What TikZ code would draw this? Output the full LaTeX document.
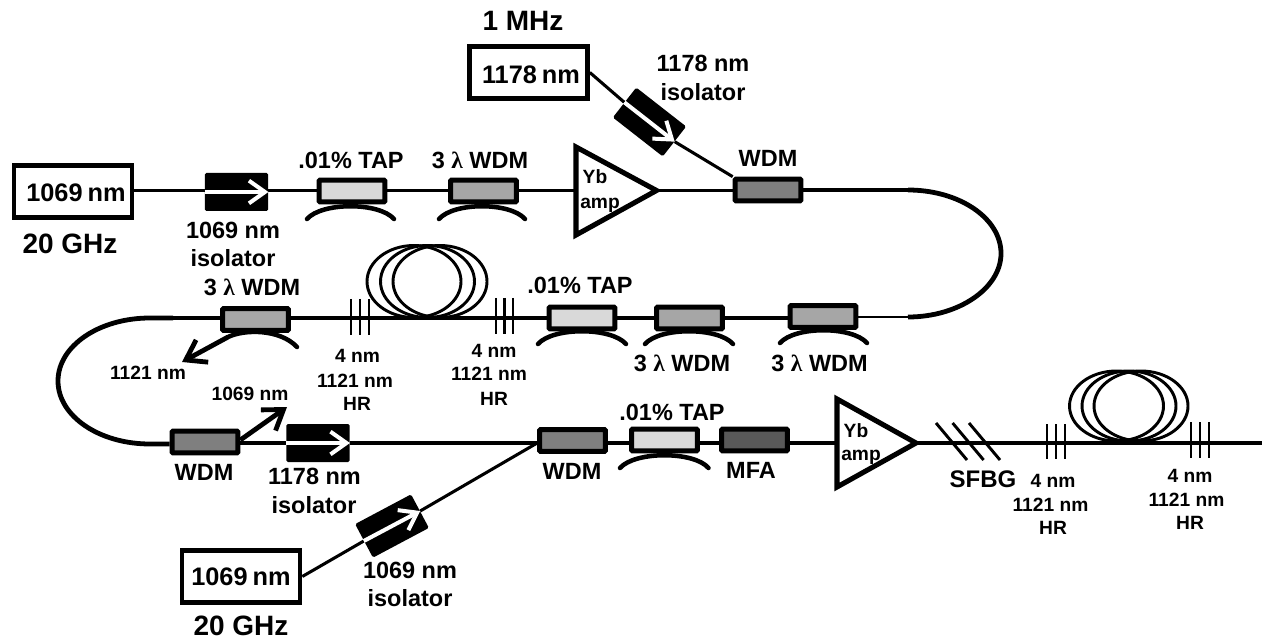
\documentclass[tikz,border=0pt]{standalone}
\usepackage{fontspec}
\setmainfont{Liberation Sans}[BoldFont={Liberation Sans Bold}]
\newfontfamily\lamfont{Liberation Serif}[BoldFont={Liberation Serif Bold}]
\usetikzlibrary{arrows.meta}
\definecolor{tapc}{HTML}{D9D9D9}
\definecolor{wlc}{HTML}{A6A6A6}
\definecolor{wdmc}{HTML}{7F7F7F}
\definecolor{mfac}{HTML}{595959}
\newcommand{\lam}{{\lamfont λ}}
\tikzset{
  x=0.75pt,y=-0.75pt,
  lbl/.style={inner sep=0pt,outer sep=0pt,align=center,font=\bfseries\fontsize{17.6}{19}\selectfont,text height=12.7pt,text depth=0pt},
  lblbig/.style={lbl,font=\bfseries\fontsize{19}{21}\selectfont,text height=13.7pt},
  lblfreq/.style={lbl,font=\bfseries\fontsize{21}{23}\selectfont,text height=15.1pt},
  lblsf/.style={lbl,font=\bfseries\fontsize{18}{20}\selectfont,text height=13pt},
  lblsm/.style={lbl,font=\bfseries\fontsize{14.4}{16}\selectfont,text height=10.4pt},
  source/.style={draw,line width=3.6pt,fill=white,minimum width=92pt-3.6pt,minimum height=43pt-3.6pt,inner sep=0pt},
  comp/.style={draw,line width=3.7pt,minimum width=53pt-3.7pt,minimum height=20pt-3.7pt,inner sep=0pt,rounded corners=.6pt},
  tapbox/.style={comp,fill=tapc},
  wlbox/.style={comp,fill=wlc},
  wdmbox/.style={comp,fill=wdmc},
  mfabox/.style={comp,fill=mfac},
  isobox/.style={fill=black,minimum width=47.5pt,minimum height=28.5pt,inner sep=0pt,rounded corners=1.2pt},
  ampbox/.style={draw,line width=3.8pt,line join=miter},
  fibre/.style={line width=2.3pt},
  bendline/.style={line width=3.6pt},
  coup/.style={line width=3.4pt,line cap=round},
  coil/.style={line width=2.2pt},
  grat/.style={line width=2.2pt},
  whitearr/.style={draw=white,line width=3pt,-{Straight Barb[length=12pt,width=17pt,line width=3pt]}},
  blackarr/.style={line width=3.6pt,-{Straight Barb[length=14pt,width=19pt,line width=3.6pt]}},
}
\begin{document}
\begin{tikzpicture}
\useasboundingbox (0,0) rectangle (1262,641);
% sources
\node[source] (srcA) at (73,191.5) {};
\node[source] (srcB) at (528.5,72.5) {};
\node[source] (srcC) at (241,576.5) {};
\node[lblbig] (tA) at (76,192) {1069\hspace{-.08em} nm};
\node[lblbig] (tB) at (531,74) {1178\hspace{-.08em} nm};
\node[lblbig] (tC) at (241,576) {1069\hspace{-.08em} nm};
\node[lblfreq] (fA) at (70,243) {20 GHz};
\node[lblfreq] (fB) at (523,20) {1 MHz};
\node[lblfreq] (fC) at (241,625) {20 GHz};
% row 1
\node[isobox] (isoA) at (236.5,192) {};
\node[tapbox] (tapA) at (352,191) {};
\node[wlbox] (wlA) at (483.5,191) {};
\node[wdmbox] (wdmA) at (768,190) {};
\coordinate (ampAw) at (576,190.5);
\coordinate (ampAe) at (656.5,190.5);
\draw[ampbox,fill=white] (576,147) -- (ampAe) -- (576,235) -- cycle;
\node[lblsm] (ybA) at (595,177) {Yb};
\node[lblsm] (amA) at (600,202) {amp};
\draw[fibre] (srcA.east |- ampAw) -- (isoA.west |- ampAw);
\draw[fibre] (isoA.east |- ampAw) -- (tapA.west |- ampAw);
\draw[fibre] (tapA.east |- ampAw) -- (wlA.west |- ampAw);
\draw[fibre] (wlA.east |- ampAw) -- (ampAw);
\draw[fibre] (ampAe) -- (wdmA.west |- ampAe);
\coordinate (bendAs) at (908,190);
\coordinate (bendAe) at (908,317);
\draw[fibre] (wdmA.east) -- (bendAs);
\draw[bendline] (bendAs) .. controls (959,190) and (1001,218) .. (1001,253.5) .. controls (1001,288) and (959,317) .. (bendAe);
% 1178 isolator
\node[isobox,rotate=-38] (isoB) at (649.5,122) {};
\draw[fibre] (srcB.east) -- (isoB.west);
\draw[fibre] (isoB.east) -- (wdmA.north west);
\draw[whitearr] (isoB.west) -- (isoB.east);
\draw[whitearr] (isoA.west) -- (isoA.east);
\node[lbl] (lA1) at (233,230) {1069 nm};
\node[lbl] (lA2) at (233,258) {isolator};
\node[lbl] (lB1) at (703,63) {1178 nm};
\node[lbl] (lB2) at (703,92) {isolator};
\node[lbl] (lT1) at (351,160) {.01\% TAP};
\node[lbl] (lW1) at (480,160) {3 \lam\ WDM};
\node[lbl] (lWa) at (768,158) {WDM};
% couplers row 1
\draw[coup] (307,219) .. controls (322,202) and (379,202) .. (394,219);
\draw[coup] (439,219) .. controls (454,202) and (510,202) .. (525,219);
% row 2
\node[wlbox] (wlB) at (823,316.5) {};
\node[wlbox] (wlC) at (689.5,318) {};
\node[tapbox] (tapB) at (582,318) {};
\node[wlbox] (wlD) at (255.5,319.5) {};
\coordinate (rowB) at (0,318);
\draw[line width=1.1pt] (bendAe) -- (wlB.east |- bendAe);
\draw[fibre] (wlB.west |- rowB) -- (wlC.east |- rowB);
\draw[fibre] (wlC.west |- rowB) -- (tapB.east |- rowB);
\draw[fibre] (tapB.west |- rowB) -- (wlD.east |- rowB);
\coordinate (bendBs) at (173,318);
\draw[fibre] (wlD.west |- rowB) -- (bendBs);
\foreach \c in {414,427.5,440} \draw[coil] (\c,281.5) ellipse [x radius=47,y radius=36];
\foreach \c in {351,360,369} \draw[grat] (\c,299) -- (\c,335);
\foreach \c in {496,504.5,513} \draw[grat] (\c,298) -- (\c,334);
\draw[coup] (645,344) .. controls (660,327) and (718,327) .. (733,344);
\draw[coup] (780,343) .. controls (795,326) and (852,326) .. (867,343);
\draw[coup] (538,344) .. controls (553,327) and (611,327) .. (626,344);
\draw[coup] (228,337) .. controls (245,329) and (280,329) .. (297,347);
\draw[blackarr] (228,337) -- (182,362);
\node[lbl] (lW3) at (682,363) {3 \lam\ WDM};
\node[lbl] (lW4) at (819.5,363) {3 \lam\ WDM};
\node[lbl] (lT2) at (580,285) {.01\% TAP};
\node[lbl] (lW5) at (252,287) {3 \lam\ WDM};
\node[lblsm] (n1121) at (148,373) {1121 nm};
\node[lblsm] (a1) at (357.5,356) {4 nm};
\node[lblsm] (a2) at (355,381) {1121 nm};
\node[lblsm] (a3) at (357,404) {HR};
\node[lblsm] (b1) at (494,351) {4 nm};
\begin{scope}
\clip (440,360) rectangle (525,390);
\node[lblsm] (b2) at (489,374) {1121 nm};
\end{scope}
\node[lblsm] (b3) at (494,399) {HR};
% left bend
\node[wdmbox] (wdmE) at (205,442) {};
\coordinate (bendBe) at (150,444);
\draw[bendline] (bendBs) -- (150,318) .. controls (99,318) and (58,346) .. (58,381) .. controls (58,416) and (99,444) .. (bendBe) -- (wdmE.west |- bendBe);
% row 3
\coordinate (rowC) at (0,443);
\node[isobox] (isoC) at (318,443) {};
\node[wdmbox] (wdmF) at (572.5,440.5) {};
\node[tapbox] (tapC) at (664.5,440) {};
\node[mfabox] (mfa) at (754.5,440) {};
\coordinate (ampBw) at (837,443);
\coordinate (ampBe) at (916,443);
\draw[ampbox,fill=white] (837,399) -- (ampBe) -- (837,487) -- cycle;
\node[lblsm] (ybB) at (856,431) {Yb};
\node[lblsm] (amB) at (861,454) {amp};
\draw[fibre] (wdmE.east |- rowC) -- (isoC.west |- rowC);
\draw[fibre] (isoC.east |- rowC) -- (wdmF.west |- rowC);
\draw[fibre] (wdmF.east |- rowC) -- (tapC.west |- rowC);
\draw[fibre] (tapC.east |- rowC) -- (mfa.west |- rowC);
\draw[fibre] (mfa.east |- rowC) -- (ampBw);
\coordinate (endC) at (1262,443);
\draw[fibre] (ampBe) -- (endC);
\draw[whitearr] (isoC.west) -- (isoC.east);
\draw[blackarr] (wdmE.east) ++(0,-2) -- (287,407);
\node[lblsm] (n1069) at (250,394) {1069 nm};
\node[lbl] (lWe) at (204,472) {WDM};
\node[lbl] (lC1) at (314.5,476) {1178 nm};
\node[lbl] (lC2) at (314,505) {isolator};
\node[lbl] (lWf) at (572,471) {WDM};
\node[lbl] (lT3) at (672,412) {.01\% TAP};
\node[lbl] (lM) at (751,470) {MFA};
\draw[coup] (620,468) .. controls (635,451) and (694,451) .. (708.5,468);
% lower isolator
\node[isobox,rotate=28] (isoD) at (392,526) {};
\draw[fibre] (srcC.east) -- (isoD.west);
\draw[fibre] (isoD.east) -- (wdmF.west |- rowC);
\draw[whitearr] (isoD.west) -- (isoD.east);
\node[lbl] (lD1) at (410,570) {1069 nm};
\node[lbl] (lD2) at (410,598) {isolator};
% SFBG and second coil
\foreach \a/\b in {936/967,952.6/983.6,969/1000} \draw[grat] (\a,423) -- (\b,460);
\node[lblsf] (sf) at (983,479) {SFBG};
\foreach \c in {1047,1056,1065} \draw[grat] (\c,424) -- (\c,459);
\foreach \c in {1191,1200,1209} \draw[grat] (\c,422) -- (\c,458);
\foreach \c in {1116.5,1129,1141} \draw[coil] (\c,406) ellipse [x radius=47,y radius=35];
\node[lblsm] (c1) at (1053,481) {4 nm};
\node[lblsm] (c2) at (1050.5,505) {1121 nm};
\node[lblsm] (c3) at (1053,528) {HR};
\node[lblsm] (d1) at (1190,476) {4 nm};
\node[lblsm] (d2) at (1186.5,500) {1121 nm};
\node[lblsm] (d3) at (1190,523) {HR};
\end{tikzpicture}
\end{document}
